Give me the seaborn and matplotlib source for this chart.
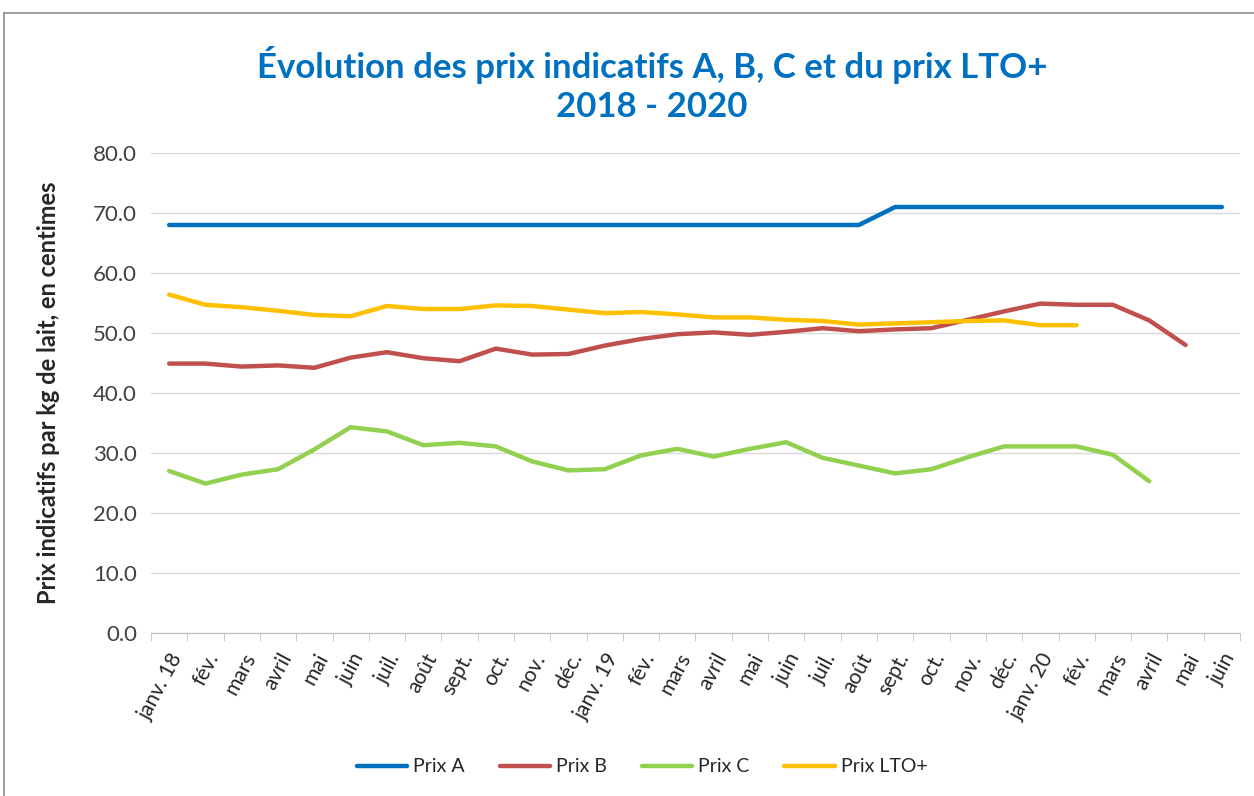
import matplotlib.pyplot as plt
import matplotlib.lines as mlines
import seaborn as sns
import pandas as pd
import numpy as np

mois = ['janv. 18', 'fév.', 'mars', 'avril', 'mai', 'juin', 'juil.', 'août', 'sept.', 'oct.', 'nov.', 'déc.',
        'janv. 19', 'fév.', 'mars', 'avril', 'mai', 'juin', 'juil.', 'août', 'sept.', 'oct.', 'nov.', 'déc.',
        'janv. 20', 'fév.', 'mars', 'avril', 'mai', 'juin']

prix_a = [68.0] * 20 + [71.0] * 10
prix_b = [44.9, 44.9, 44.4, 44.6, 44.2, 45.9, 46.8, 45.8, 45.3, 47.4, 46.4, 46.5, 47.9, 49.0, 49.8,
          50.1, 49.7, 50.2, 50.8, 50.3, 50.6, 50.8, 52.2, 53.6, 54.9, 54.7, 54.7, 52.1, 48.0]
prix_c = [27.0, 24.9, 26.4, 27.3, 30.6, 34.3, 33.6, 31.3, 31.7, 31.1, 28.6, 27.1, 27.3, 29.6, 30.7,
          29.4, 30.7, 31.8, 29.2, 27.9, 26.6, 27.3, 29.3, 31.1, 31.1, 31.1, 29.7, 25.3]
prix_lto = [56.4, 54.7, 54.3, 53.7, 53.0, 52.8, 54.5, 54.0, 54.0, 54.6, 54.5, 53.9, 53.3, 53.5, 53.1,
            52.6, 52.6, 52.2, 52.0, 51.4, 51.6, 51.8, 52.0, 52.1, 51.3, 51.3]

series = {'Prix A': prix_a, 'Prix B': prix_b, 'Prix C': prix_c, 'Prix LTO+': prix_lto}
couleurs = {'Prix A': '#0070C0', 'Prix B': '#C0504D', 'Prix C': '#92D050', 'Prix LTO+': '#FFC000'}

rows = []
for nom, vals in series.items():
    for i, v in enumerate(vals):
        rows.append({'mois': i, 'prix': v, 'serie': nom})
df = pd.DataFrame(rows)

sns.set_style('white')
plt.rcParams['font.family'] = ['Lato', 'DejaVu Sans']

fig = plt.figure(figsize=(12.54, 7.96), dpi=100)
ax = fig.add_axes([151 / 1254, 1 - 633 / 796, (1240 - 151) / 1254, (633 - 153) / 796])

sns.lineplot(data=df, x='mois', y='prix', hue='serie', palette=couleurs, linewidth=3.2,
             ax=ax, legend=False, solid_capstyle='round')

ax.set_xlim(-0.5, len(mois) - 0.5)
ax.set_ylim(0, 80)
ax.set_yticks(np.arange(0, 81, 10))
ax.set_yticklabels([f'{v:.1f}' for v in np.arange(0, 81, 10)], fontsize=16, color='#404040')
ax.yaxis.grid(True, color='#d9d9d9', linewidth=1)
ax.tick_params(axis='y', length=0, pad=10)

ax.set_xticks(range(len(mois)))
ax.set_xticklabels(mois, rotation=62, ha='right', rotation_mode='anchor', fontsize=15, color='#262626')
ax.set_xticks(np.arange(-0.5, len(mois), 1), minor=True)
ax.tick_params(axis='x', which='major', length=0, pad=12)
ax.tick_params(axis='x', which='minor', length=6, color='#bfbfbf', direction='out', bottom=True)

for s in ['top', 'right', 'left']:
    ax.spines[s].set_visible(False)
ax.spines['bottom'].set_color('#bfbfbf')
ax.set_xlabel('')
ax.set_ylabel('Prix indicatifs par kg de lait, en centimes', fontsize=17, fontweight='bold', labelpad=24)

fig.text(0.52, 1 - 65 / 796, 'Évolution des prix indicatifs A, B, C et du prix LTO+', ha='center', va='center',
         fontsize=25, fontweight='bold', color='#0070C0')
fig.text(0.52, 1 - 107 / 796, '2018 - 2020', ha='center', va='center',
         fontsize=25, fontweight='bold', color='#0070C0')

handles = [mlines.Line2D([], [], color=c, linewidth=3.2, solid_capstyle='round') for c in couleurs.values()]
fig.legend(handles, list(couleurs.keys()), loc='center', bbox_to_anchor=(0.512, 1 - 767 / 796), ncol=4,
           frameon=False, fontsize=14, handlelength=2.6, columnspacing=1.8, handletextpad=0.3,
           labelcolor='#262626')

fig.add_artist(mlines.Line2D([4 / 1254, 4 / 1254], [0, 1 - 13 / 796], color='#8c8c8c', linewidth=1.2))
fig.add_artist(mlines.Line2D([4 / 1254, 1], [1 - 13 / 796, 1 - 13 / 796], color='#8c8c8c', linewidth=1.2))

fig.savefig('out.png', dpi=100)
